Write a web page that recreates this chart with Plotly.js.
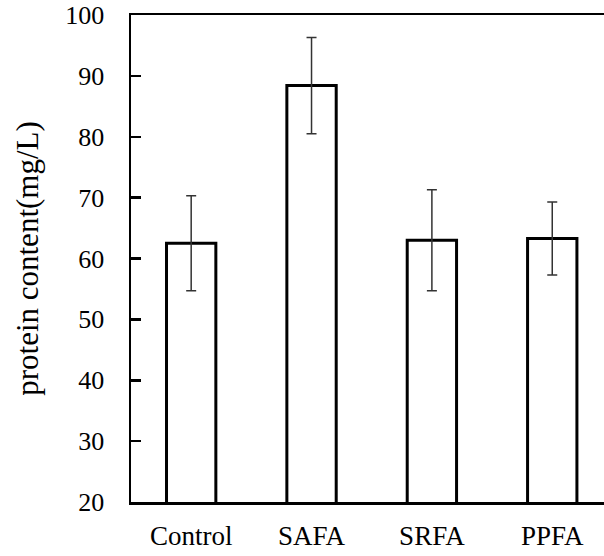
<!DOCTYPE html>
<html>
<head>
<meta charset="utf-8">
<script src="https://cdn.plot.ly/plotly-3.0.1.min.js"></script>
<style>html,body{margin:0;padding:0;background:#fff;overflow:hidden;}</style>
</head>
<body>
<div id="chart" style="width:604px;height:556px;"></div>
<script>
var categories = ["Control", "SAFA", "SRFA", "PPFA"];
var proteinContent = [62.5, 88.4, 63.0, 63.3];
var errorValues = [7.8, 7.9, 8.3, 6.0];
var yTicks = [20, 30, 40, 50, 60, 70, 80, 90, 100];

var serif = "Liberation Serif, Times New Roman, serif";

var trace = {
  type: "bar",
  x: [0, 1, 2, 3],
  y: proteinContent,
  width: 0.41,
  marker: {color: "#ffffff", line: {color: "#000000", width: 3}},
  error_y: {type: "data", array: errorValues, visible: true, color: "#333333", thickness: 1.5, width: 5},
  hoverinfo: "skip"
};

var layout = {
  width: 604,
  height: 556,
  margin: {l: 131, r: 0, t: 15, b: 54},
  paper_bgcolor: "#ffffff",
  plot_bgcolor: "#ffffff",
  showlegend: false,
  font: {family: serif, size: 26, color: "#000000"},
  xaxis: {
    range: [-0.5, 3.43],
    tickmode: "array",
    tickvals: [0, 1, 2, 3],
    ticktext: categories,
    ticks: "",
    showgrid: false,
    zeroline: false,
    showline: true,
    linecolor: "#000000",
    linewidth: 2.5,
    mirror: true,
    ticklabelstandoff: 8,
    tickfont: {family: serif, size: 27, color: "#000000"}
  },
  yaxis: {
    range: [20, 100],
    tickmode: "array",
    tickvals: yTicks,
    ticktext: yTicks.map(String),
    ticks: "inside",
    ticklen: 10,
    tickwidth: 2.5,
    tickcolor: "#000000",
    showgrid: false,
    zeroline: false,
    showline: true,
    linecolor: "#000000",
    linewidth: 2.5,
    ticklabelstandoff: 19,
    tickfont: {family: serif, size: 26, color: "#000000"},
    title: {text: "protein content(mg/L)", font: {family: serif, size: 31, color: "#000000"}, standoff: 18}
  }
};

Plotly.newPlot("chart", [trace], layout, {displayModeBar: false, staticPlot: true});
</script>
</body>
</html>
